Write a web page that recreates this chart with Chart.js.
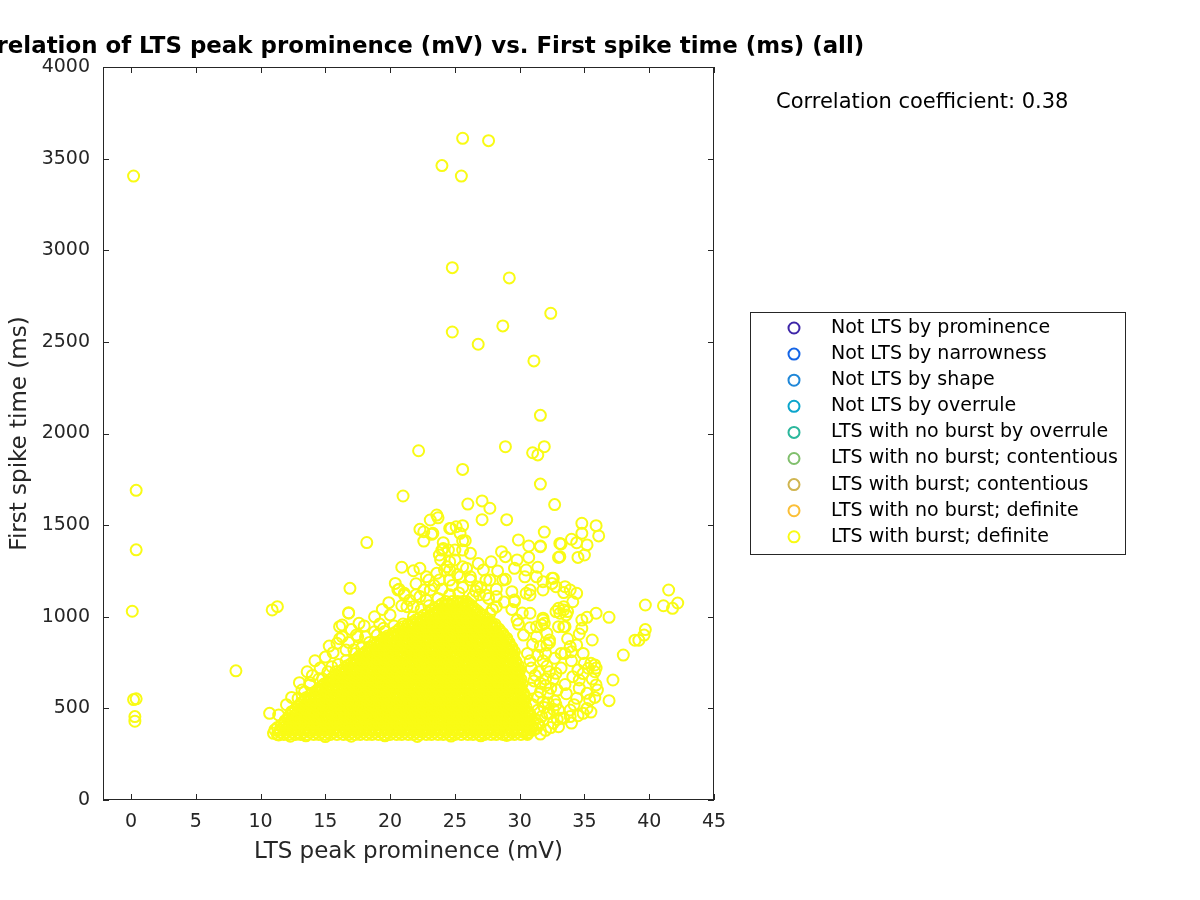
<!DOCTYPE html>
<html><head><meta charset="utf-8">
<script src="https://cdn.jsdelivr.net/npm/chart.js@4.4.0/dist/chart.umd.min.js"></script>
<style>html,body{margin:0;padding:0;background:#fff}canvas{display:block}</style>
</head><body>
<canvas id="c" width="1200" height="900"></canvas>
<script>
const chartTitle = 'Correlation of LTS peak prominence (mV) vs. First spike time (ms) (all)';
const xLabel = 'LTS peak prominence (mV)';
const yLabel = 'First spike time (ms)';
const corrText = 'Correlation coefficient: 0.38';
const seriesLabels = ['Not LTS by prominence','Not LTS by narrowness','Not LTS by shape','Not LTS by overrule','LTS with no burst by overrule','LTS with no burst; contentious','LTS with burst; contentious','LTS with no burst; definite','LTS with burst; definite'];
const seriesColors = ['#3e26a8','#1565e6','#1f87d8','#0ba5cc','#2bb79c','#80bf6c','#d0b550','#fbbf37','#f9fb15'];
const xTicks = [0,5,10,15,20,25,30,35,40,45];
const yTicks = [0,500,1000,1500,2000,2500,3000,3500,4000];

// isolated points (x = prominence mV, y = first spike time ms)
const isolatedPoints = [[0.2,3405],[0.4,1690],[0.4,1365],[0.1,1030],[0.2,548],[0.4,552],[0.3,455],[0.3,430],[8.1,705],[10.9,1037],[11.3,1055],
[24.0,3462],[25.6,3611],[27.6,3598],[25.5,3405],[24.8,2905],[29.2,2849],[32.4,2656],[24.8,2554],[28.7,2587],[26.8,2487],[31.1,2396],[31.6,2099],
[22.2,1906],[28.9,1928],[31.9,1928],[31.0,1895],[31.4,1883],[25.6,1804],[31.6,1724],[21.0,1659],[26.0,1615],[27.1,1632],[27.7,1592],[32.7,1612]];
const farRightPoints = [[39.7,1064],[41.5,1146],[41.1,1060],[41.8,1046],[42.2,1075],[39.7,930],[39.6,900],[39.2,872],[38.9,872],[38.0,791],[37.2,655],[36.9,542],[36.9,997],[35.9,628]];
const upperPoints = [[23.6,1555],[23.1,1528],[27.1,1530],[29.0,1530],[22.3,1477],[22.6,1464],[22.6,1413],[23.3,1455],[24.7,1482],[25.1,1491],[25.6,1497],[25.4,1455],[25.8,1415],[18.2,1405],[24.1,1404],[24.1,1372],[23.8,1337],[24.5,1364],[25.0,1364],[25.6,1364],[26.2,1346],[25.6,1415],[29.9,1419],[31.9,1462],[30.7,1386],[31.6,1386],[33.1,1400],[33.1,1328],[28.6,1355],[28.9,1328],[29.8,1310],[30.7,1324],[29.6,1264],[30.5,1255],[31.4,1270],[30.4,1218],[31.3,1218],[32.6,1210],[28.9,1204],[29.4,1137],[29.6,1091],[30.8,1146],[30.8,1119],[31.8,1191],[31.8,1146],[32.8,1164],
[20.9,1270],[21.8,1251],[22.3,1264],[22.8,1218],[20.4,1182],[20.6,1146],[21.1,1119],[19.9,1077],[22.6,1146],[21.8,1055],[16.9,1155],[16.8,1022],[17.6,964],[15.9,855],[16.6,819],[17.5,891],[23.9,1310],[24.4,1273],[25.0,1310],[25.9,1264],[25.4,1218],[27.2,1255],[27.4,1200],[26.2,1200],[23.8,1200],[24.6,1200],[23.2,1450],[23.7,1540],[24.6,1482],[24.0,1364],[20.7,1150],[21.1,1128],[23.0,1200],[24.6,1255],
[27.7,1200],[28.7,1200],[29.6,1082],[30.5,1128],[33.4,1055],[32.8,1028],[30.8,1019],[29.8,982],[27.7,1019],[28.2,1055],[27.4,1119],[28.2,1110],[21.3,1055],[22.3,1110],[23.1,1146],[23.6,1237],[24.2,1255],[24.6,1300],[25.6,1273],[26.2,1218],[26.7,1164],
[24.0,1150],[24.8,1170],[25.6,1160],[26.6,1140],[25.2,1230],[23.4,1170],[22.0,1180],[26.8,1290],[27.8,1300],[28.3,1250],[18.8,1000],[19.4,1040],[20.0,1010],[20.9,1060],[21.5,1090],[22.0,1120],[22.8,1090],[19.2,960],[18.0,950],[17.0,930]];
const rightPoints = [[34.8,1510],[35.9,1497],[36.1,1441],[34.8,1455],[31.6,1382],[33.2,1397],[34.0,1423],[34.4,1404],[35.2,1392],[33.0,1324],[34.5,1324],[35.0,1337],[32.5,1210],[32.5,1182],[33.5,1164],[33.9,1146],[34.4,1128],[33.4,1132],[34.1,1082],[33.0,1046],[33.4,1037],[33.7,1028],[33.6,1010],[34.8,982],[35.2,997],[35.9,1019],[31.8,982],[31.7,955],[33.0,946],[33.5,946],[34.6,906],[34.8,937],[35.6,873],[33.9,837],[34.4,846],[33.5,800],[34.0,809],[32.3,858],[32.1,846],[32.7,773],[35.0,746],[35.5,746],[35.8,737],[35.3,719],[34.5,709],[35.2,582],[35.4,546],[35.2,500],[34.9,473],[33.9,491],[33.4,446],[33.9,455],[34.4,555],[34.6,610],[34.1,673],[34.6,655],[32.3,700],[32.8,691],[31.6,637],[32.2,582],[31.8,536],[33.0,491],[32.3,473],[33.2,446],[31.4,418],[31.3,391],[32.1,473],
[33.1,1019],[33.2,800],[31.3,891],[31.6,837],[31.8,992],[31.9,964],[33.4,946],[32.3,873],[31.3,946],[32.1,910],
[31.6,360],[32.0,380],[31.2,440],[32.6,420],[31.9,505],[32.8,520],[31.4,560],[32.4,610],[31.2,680],[30.9,720],[31.8,760],[30.6,800],[31.0,850],[30.3,900],[30.8,940],[29.9,960],[30.2,1020],[29.4,1040],[28.8,1080],[28.2,1150],[27.6,1100],[27.9,1040],[26.9,1120],[27.0,1160],[26.4,1110],
[32.9,600],[33.5,630],[32.0,660],[32.7,540],[33.6,580],[34.2,520],[33.0,400],[34.0,420],[34.5,460],[35.5,480],[35.8,560],[36.0,600],[35.6,660],[34.9,690],[33.2,720],[34.0,760],[33.7,880],[34.9,800],[35.9,720],[35.8,700],
[30.9,395],[31.5,410],[32.4,395],[32.9,440],[31.7,455],[30.8,470],[31.4,490],[32.6,495],[31.0,520],[32.2,530],[31.6,590],[30.9,610],[32.0,625],[31.1,650],[32.6,660],[31.5,700],[32.1,730],[30.8,760],[31.4,790],[32.0,800]];
const leftEdgePoints = [[16.3,955],[15.5,727],[15.6,804],[16.8,1019],[17.4,900],[18.1,891],[18.8,918],[19.5,937],[10.7,473],[11.4,464],[12.4,482],[12.9,555],[13.8,628],[13.4,591],[11.0,364],[11.4,355],[16.1,946],[16.3,891],
[13.0,640],[13.6,700],[14.2,760],[14.6,720],[15.0,780],[13.2,600],[12.4,560],[12.0,520],[14.0,680],[15.3,840],[16.1,880],[16.8,860],[17.2,820],[15.8,700],[14.8,660],
[25.3,1130],[24.6,1120],[23.7,1100],[23.0,1060],[22.4,1040],[21.8,1000],[21.0,960],[20.3,950],[19.6,920],[19.0,900],[18.4,860],[17.8,830],[17.3,800],[16.6,760],[16.0,740],[15.2,700],[14.5,660],[13.8,640],
[12.3,348],[13.5,350],[15.0,346],[17.0,348],[19.6,350],[22.1,347],[24.7,349],[27.0,350],[29.0,352],[30.6,365]];
// dense core, first set of rows: first spike time of each row and the prominence values in it
const coreRowY = [358,383,408,433,458,483,508,533,558,583,608,633,658,683,708,733,758,783,808,833,858,883,908,933,958,983,1008,1033,1058,1083];
const coreRowX = [
[11.3,11.8,12.2,12.7,13.1,13.6,14.1,14.5,15.0,15.4,15.9,16.4,16.8,17.3,17.7,18.2,18.6,19.1,19.6,20.0,20.5,20.9,21.4,21.8,22.3,22.8,23.2,23.7,24.1,24.6,25.0,25.5,26.0,26.4,26.9,27.3,27.8,28.2,28.7,29.2,29.6,30.1,30.6],
[11.1,11.5,12.0,12.4,12.9,13.4,13.8,14.3,14.7,15.2,15.6,16.1,16.6,17.0,17.5,17.9,18.4,18.9,19.3,19.8,20.2,20.7,21.1,21.6,22.1,22.5,23.0,23.4,23.9,24.4,24.8,25.3,25.7,26.2,26.6,27.1,27.6,28.0,28.5,28.9,29.4,29.9,30.3,30.8,31.1],
[11.6,12.0,12.5,12.9,13.4,13.9,14.3,14.8,15.2,15.7,16.2,16.6,17.1,17.5,18.0,18.4,18.9,19.4,19.8,20.3,20.7,21.2,21.7,22.1,22.6,23.0,23.5,23.9,24.4,24.9,25.3,25.8,26.2,26.7,27.2,27.6,28.1,28.5,29.0,29.4,29.9,30.4,30.9],
[11.9,12.3,12.7,13.2,13.6,14.1,14.5,15.0,15.5,15.9,16.4,16.8,17.3,17.8,18.2,18.7,19.1,19.6,20.0,20.5,21.0,21.4,21.9,22.3,22.8,23.2,23.7,24.2,24.6,25.1,25.5,26.0,26.4,26.9,27.4,27.8,28.3,28.7,29.2,29.7,30.1,30.6],
[12.2,12.6,13.0,13.5,13.9,14.4,14.8,15.3,15.7,16.2,16.7,17.1,17.6,18.0,18.5,18.9,19.4,19.9,20.3,20.8,21.2,21.7,22.1,22.6,23.1,23.5,24.0,24.4,24.9,25.3,25.8,26.3,26.7,27.2,27.6,28.1,28.5,29.0,29.5,29.9,30.4,30.8],
[12.5,12.9,13.3,13.8,14.2,14.6,15.1,15.5,16.0,16.4,16.9,17.4,17.8,18.3,18.7,19.2,19.6,20.1,20.6,21.0,21.5,21.9,22.4,22.8,23.3,23.8,24.2,24.7,25.1,25.6,26.0,26.5,27.0,27.4,27.9,28.3,28.8,29.2,29.7,30.2,30.6],
[12.9,13.3,13.7,14.1,14.6,15.0,15.5,15.9,16.4,16.8,17.3,17.7,18.2,18.6,19.1,19.5,20.0,20.5,20.9,21.4,21.8,22.3,22.7,23.2,23.6,24.1,24.6,25.0,25.5,25.9,26.4,26.8,27.3,27.7,28.2,28.7,29.1,29.6,30.0,30.5],
[13.2,13.6,14.0,14.4,14.8,15.3,15.7,16.2,16.6,17.1,17.5,18.0,18.4,18.9,19.3,19.8,20.3,20.7,21.2,21.6,22.1,22.5,23.0,23.4,23.9,24.3,24.8,25.3,25.7,26.2,26.6,27.1,27.5,28.0,28.4,28.9,29.4,29.8,30.3],
[13.5,13.9,14.3,14.7,15.1,15.5,16.0,16.4,16.9,17.3,17.8,18.2,18.7,19.1,19.6,20.0,20.5,21.0,21.4,21.9,22.3,22.8,23.2,23.7,24.1,24.6,25.0,25.5,26.0,26.4,26.9,27.3,27.8,28.2,28.7,29.1,29.6,30.1,30.5],
[14.0,14.5,14.9,15.3,15.8,16.2,16.7,17.1,17.6,18.0,18.5,18.9,19.4,19.8,20.3,20.7,21.2,21.7,22.1,22.6,23.0,23.5,23.9,24.4,24.8,25.3,25.8,26.2,26.7,27.1,27.6,28.0,28.5,28.9,29.4,29.9,30.3],
[14.5,14.8,15.2,15.6,16.0,16.5,16.9,17.4,17.8,18.3,18.7,19.2,19.6,20.1,20.5,21.0,21.4,21.9,22.4,22.8,23.3,23.7,24.2,24.6,25.1,25.5,26.0,26.5,26.9,27.4,27.8,28.3,28.7,29.2,29.7,30.1],
[14.9,15.3,15.8,16.2,16.7,17.1,17.6,18.0,18.5,18.9,19.4,19.9,20.3,20.8,21.2,21.7,22.1,22.6,23.0,23.5,24.0,24.4,24.9,25.3,25.8,26.2,26.7,27.2,27.6,28.1,28.5,29.0,29.4,29.9,30.2],
[15.4,15.8,16.1,16.5,16.9,17.4,17.8,18.3,18.7,19.2,19.6,20.1,20.5,21.0,21.4,21.9,22.3,22.8,23.3,23.7,24.2,24.6,25.1,25.5,26.0,26.4,26.9,27.4,27.8,28.3,28.7,29.2,29.6,30.1],
[15.8,16.3,16.7,17.2,17.6,18.1,18.5,19.0,19.4,19.9,20.3,20.8,21.2,21.7,22.1,22.6,23.1,23.5,24.0,24.4,24.9,25.3,25.8,26.2,26.7,27.2,27.6,28.1,28.5,29.0,29.4,29.9],
[16.3,16.6,17.0,17.4,17.9,18.3,18.8,19.2,19.7,20.1,20.6,21.0,21.5,21.9,22.4,22.8,23.3,23.8,24.2,24.7,25.1,25.6,26.0,26.5,26.9,27.4,27.9,28.3,28.8,29.2,29.7,30.0],
[16.7,17.2,17.6,18.1,18.5,19.0,19.4,19.9,20.3,20.8,21.2,21.7,22.2,22.6,23.1,23.5,24.0,24.4,24.9,25.3,25.8,26.3,26.7,27.2,27.6,28.1,28.5,29.0,29.5,29.9],
[17.2,17.5,17.9,18.3,18.8,19.2,19.7,20.1,20.6,21.0,21.5,21.9,22.4,22.9,23.3,23.8,24.2,24.7,25.1,25.6,26.0,26.5,27.0,27.4,27.9,28.3,28.8,29.2,29.7],
[17.6,18.1,18.5,19.0,19.4,19.9,20.3,20.8,21.3,21.7,22.2,22.6,23.1,23.5,24.0,24.4,24.9,25.4,25.8,26.3,26.7,27.2,27.6,28.1,28.5,29.0,29.5],
[18.1,18.4,18.8,19.2,19.7,20.1,20.6,21.0,21.5,21.9,22.4,22.8,23.3,23.8,24.2,24.7,25.1,25.6,26.0,26.5,26.9,27.4,27.9,28.3,28.8,29.2,29.6],
[18.5,19.0,19.4,19.9,20.3,20.8,21.2,21.7,22.1,22.6,23.1,23.5,24.0,24.4,24.9,25.3,25.8,26.2,26.7,27.2,27.6,28.1,28.5,29.0,29.4],
[19.0,19.3,19.7,20.1,20.5,21.0,21.4,21.9,22.3,22.8,23.3,23.7,24.2,24.6,25.1,25.5,26.0,26.4,26.9,27.4,27.8,28.3,28.7,29.2],
[19.5,19.9,20.3,20.8,21.2,21.7,22.1,22.6,23.0,23.5,24.0,24.4,24.9,25.3,25.8,26.2,26.7,27.1,27.6,28.1,28.5,29.0],
[20.2,20.6,21.0,21.4,21.9,22.3,22.8,23.2,23.7,24.2,24.6,25.1,25.5,26.0,26.4,26.9,27.3,27.8,28.3,28.7],
[20.7,21.2,21.6,22.1,22.5,23.0,23.4,23.9,24.4,24.8,25.3,25.7,26.2,26.6,27.1,27.5,28.0,28.4],
[21.4,21.8,22.3,22.7,23.2,23.6,24.1,24.6,25.0,25.5,25.9,26.4,26.8,27.3,27.7,28.1],
[22.0,22.5,22.9,23.4,23.8,24.3,24.8,25.2,25.7,26.1,26.6,27.0,27.5],
[22.6,23.1,23.5,24.0,24.4,24.9,25.4,25.8,26.3,26.7,27.1],
[23.2,23.7,24.1,24.6,25.0,25.5,25.9,26.4,26.7],
[23.8,24.2,24.7,25.1,25.6,26.0,26.3],
[24.3,24.8,25.2,25.6,25.9]];
// dense core, second set of rows (between the first ones)
const coreRowY2 = [370,395,420,445,470,495,520,545,570,595,620,645,670,695,720,745,770,795,820,845,870,895,920,945,970,995,1020,1045,1070];
const coreRowX2 = [
[11.5,12.0,12.4,12.9,13.3,13.8,14.3,14.7,15.2,15.6,16.1,16.6,17.0,17.5,17.9,18.4,18.8,19.3,19.8,20.2,20.7,21.1,21.6,22.0,22.5,23.0,23.4,23.9,24.3,24.8,25.2,25.7,26.2,26.6,27.1,27.5,28.0,28.4,28.9,29.4,29.8,30.3,30.7],
[11.3,11.7,12.2,12.6,13.1,13.6,14.0,14.5,14.9,15.4,15.8,16.3,16.8,17.2,17.7,18.1,18.6,19.1,19.5,20.0,20.4,20.9,21.3,21.8,22.3,22.7,23.2,23.6,24.1,24.6,25.0,25.5,25.9,26.4,26.8,27.3,27.8,28.2,28.7,29.1,29.6,30.1,30.5,31.0],
[11.8,12.2,12.7,13.1,13.6,14.1,14.5,15.0,15.4,15.9,16.3,16.8,17.3,17.7,18.2,18.6,19.1,19.5,20.0,20.5,20.9,21.4,21.8,22.3,22.7,23.2,23.7,24.1,24.6,25.0,25.5,25.9,26.4,26.9,27.3,27.8,28.2,28.7,29.2,29.6,30.1,30.6],
[12.1,12.5,12.9,13.4,13.8,14.3,14.7,15.2,15.7,16.1,16.6,17.0,17.5,18.0,18.4,18.9,19.3,19.8,20.2,20.7,21.2,21.6,22.1,22.5,23.0,23.4,23.9,24.4,24.8,25.3,25.7,26.2,26.6,27.1,27.6,28.0,28.5,28.9,29.4,29.9,30.3,30.7],
[12.4,12.8,13.2,13.7,14.1,14.6,15.0,15.5,15.9,16.4,16.9,17.3,17.8,18.2,18.7,19.1,19.6,20.1,20.5,21.0,21.4,21.9,22.3,22.8,23.3,23.7,24.2,24.6,25.1,25.5,26.0,26.5,26.9,27.4,27.8,28.3,28.7,29.2,29.7,30.1,30.6],
[12.7,13.1,13.5,14.0,14.4,14.8,15.3,15.7,16.2,16.6,17.1,17.6,18.0,18.5,18.9,19.4,19.8,20.3,20.8,21.2,21.7,22.1,22.6,23.0,23.5,24.0,24.4,24.9,25.3,25.8,26.2,26.7,27.2,27.6,28.1,28.5,29.0,29.4,29.9,30.4],
[13.1,13.5,13.9,14.3,14.8,15.2,15.7,16.1,16.6,17.0,17.5,17.9,18.4,18.8,19.3,19.7,20.2,20.7,21.1,21.6,22.0,22.5,22.9,23.4,23.8,24.3,24.8,25.2,25.7,26.1,26.6,27.0,27.5,27.9,28.4,28.9,29.3,29.8,30.2],
[13.4,13.8,14.2,14.6,15.0,15.5,15.9,16.4,16.8,17.3,17.7,18.2,18.6,19.1,19.5,20.0,20.5,20.9,21.4,21.8,22.3,22.7,23.2,23.6,24.1,24.5,25.0,25.5,25.9,26.4,26.8,27.3,27.7,28.2,28.6,29.1,29.6,30.0,30.4],
[13.8,14.2,14.6,15.0,15.4,15.8,16.2,16.7,17.1,17.6,18.0,18.5,18.9,19.4,19.8,20.3,20.8,21.2,21.7,22.1,22.6,23.0,23.5,23.9,24.4,24.8,25.3,25.8,26.2,26.7,27.1,27.6,28.0,28.5,28.9,29.4,29.9,30.3],
[14.3,14.7,15.1,15.6,16.0,16.4,16.9,17.3,17.8,18.2,18.7,19.1,19.6,20.0,20.5,21.0,21.4,21.9,22.3,22.8,23.2,23.7,24.1,24.6,25.0,25.5,26.0,26.4,26.9,27.3,27.8,28.2,28.7,29.1,29.6,30.1],
[14.7,15.1,15.5,15.9,16.3,16.7,17.2,17.6,18.1,18.5,19.0,19.4,19.9,20.3,20.8,21.2,21.7,22.2,22.6,23.1,23.5,24.0,24.4,24.9,25.3,25.8,26.2,26.7,27.2,27.6,28.1,28.5,29.0,29.4,29.9],
[15.2,15.6,16.0,16.4,16.9,17.3,17.8,18.2,18.7,19.1,19.6,20.1,20.5,21.0,21.4,21.9,22.3,22.8,23.2,23.7,24.2,24.6,25.1,25.5,26.0,26.4,26.9,27.4,27.8,28.3,28.7,29.2,29.6,30.0],
[15.6,16.0,16.4,16.8,17.2,17.6,18.1,18.5,19.0,19.4,19.9,20.3,20.8,21.2,21.7,22.1,22.6,23.0,23.5,24.0,24.4,24.9,25.3,25.8,26.2,26.7,27.2,27.6,28.1,28.5,29.0,29.4,29.9],
[16.1,16.5,16.9,17.4,17.8,18.3,18.7,19.2,19.6,20.1,20.5,21.0,21.4,21.9,22.3,22.8,23.3,23.7,24.2,24.6,25.1,25.5,26.0,26.4,26.9,27.4,27.8,28.3,28.7,29.2,29.6,29.9],
[16.5,16.9,17.3,17.7,18.2,18.6,19.1,19.5,20.0,20.4,20.9,21.3,21.8,22.2,22.7,23.1,23.6,24.0,24.5,25.0,25.4,25.9,26.3,26.8,27.2,27.7,28.1,28.6,29.0,29.5,29.8],
[17.0,17.4,17.8,18.3,18.7,19.2,19.6,20.1,20.5,21.0,21.4,21.9,22.4,22.8,23.3,23.7,24.2,24.6,25.1,25.5,26.0,26.5,26.9,27.4,27.8,28.3,28.7,29.2,29.7],
[17.4,17.8,18.2,18.6,19.0,19.5,19.9,20.4,20.8,21.3,21.7,22.2,22.6,23.1,23.6,24.0,24.5,24.9,25.4,25.8,26.3,26.7,27.2,27.7,28.1,28.6,29.0,29.5],
[17.9,18.3,18.7,19.2,19.6,20.1,20.5,21.0,21.5,21.9,22.4,22.8,23.3,23.7,24.2,24.6,25.1,25.6,26.0,26.5,26.9,27.4,27.8,28.3,28.7,29.2,29.5],
[18.3,18.6,19.0,19.5,19.9,20.4,20.8,21.3,21.7,22.2,22.6,23.1,23.5,24.0,24.5,24.9,25.4,25.8,26.3,26.7,27.2,27.6,28.1,28.6,29.0,29.4],
[18.8,19.2,19.6,20.1,20.5,21.0,21.4,21.9,22.4,22.8,23.3,23.7,24.2,24.6,25.1,25.5,26.0,26.4,26.9,27.4,27.8,28.3,28.7,29.2],
[19.3,19.6,20.0,20.4,20.9,21.3,21.8,22.2,22.7,23.1,23.6,24.0,24.5,24.9,25.4,25.8,26.3,26.7,27.2,27.6,28.1,28.6,29.0],
[19.8,20.2,20.6,21.1,21.5,22.0,22.4,22.9,23.3,23.8,24.2,24.7,25.1,25.6,26.0,26.5,26.9,27.4,27.9,28.3,28.8],
[20.5,20.9,21.3,21.8,22.2,22.7,23.1,23.6,24.0,24.5,24.9,25.4,25.8,26.3,26.7,27.2,27.6,28.1,28.5],
[21.0,21.5,21.9,22.4,22.8,23.3,23.7,24.2,24.6,25.1,25.5,26.0,26.4,26.9,27.3,27.8,28.1],
[21.7,22.1,22.6,23.0,23.5,23.9,24.4,24.8,25.3,25.7,26.2,26.6,27.1,27.5,27.8],
[22.3,22.8,23.2,23.7,24.1,24.6,25.0,25.5,25.9,26.4,26.8,27.3],
[22.9,23.4,23.8,24.3,24.7,25.2,25.6,26.1,26.5,26.9],
[23.5,24.0,24.4,24.9,25.3,25.8,26.2,26.5],
[24.0,24.5,24.9,25.4,25.8,26.1]];

const burstDefinite = [];
[isolatedPoints, farRightPoints, upperPoints, rightPoints, leftEdgePoints].forEach(g => g.forEach(p => burstDefinite.push({x: p[0], y: p[1]})));
coreRowY.forEach((yv, i) => coreRowX[i].forEach(xv => burstDefinite.push({x: xv, y: yv})));
coreRowY2.forEach((yv, i) => coreRowX2[i].forEach(xv => burstDefinite.push({x: xv, y: yv})));

const FONT = 'DejaVu Sans';
const AX = '#262626';

const framePlugin = {
  id: 'frame',
  afterDatasetsDraw(chart) {
    const ctx = chart.ctx, a = chart.chartArea;
    const xs = chart.scales.x, ys = chart.scales.y;
    ctx.save();
    ctx.fillStyle = AX;
    const L = Math.round(a.left), R = Math.round(a.right), T = Math.round(a.top), B = Math.round(a.bottom);
    ctx.fillRect(L, T, R - L, 1);
    ctx.fillRect(L, B - 1, R - L, 1);
    ctx.fillRect(L, T, 1, B - T);
    ctx.fillRect(R - 1, T, 1, B - T);
    const tl = 6;
    xTicks.forEach(v => { const px = Math.round(xs.getPixelForValue(v)); ctx.fillRect(px, B - tl, 1, tl); ctx.fillRect(px, T, 1, tl); });
    yTicks.forEach(v => { const py = Math.round(ys.getPixelForValue(v)); ctx.fillRect(L, py, tl, 1); ctx.fillRect(R - tl, py, tl, 1); });
    // title
    ctx.fillStyle = '#000';
    ctx.font = 'bold 22.9px "' + FONT + '"';
    ctx.textAlign = 'center'; ctx.textBaseline = 'middle';
    ctx.fillText(chartTitle, (a.left + a.right) / 2, 47);
    // correlation annotation
    ctx.font = '21px "' + FONT + '"';
    ctx.textAlign = 'left';
    ctx.fillText(corrText, 776, 103);
    // legend
    const bx = 750.5, by = 312.5, bw = 375, bh = 242;
    ctx.fillStyle = '#fff'; ctx.fillRect(bx, by, bw, bh);
    ctx.strokeStyle = AX; ctx.lineWidth = 1; ctx.strokeRect(bx, by, bw, bh);
    ctx.font = '19px "' + FONT + '"';
    chart.data.datasets.forEach((ds, i) => {
      const yy = 328 + i * 26.1;
      ctx.beginPath(); ctx.arc(794, yy, 5.5, 0, Math.PI * 2);
      ctx.strokeStyle = ds.borderColor; ctx.lineWidth = 2; ctx.stroke();
      ctx.fillStyle = '#000'; ctx.textAlign = 'left'; ctx.textBaseline = 'middle';
      ctx.fillText(ds.label, 831, yy);
    });
    ctx.restore();
  }
};

new Chart(document.getElementById('c').getContext('2d'), {
  type: 'scatter',
  data: {
    datasets: seriesLabels.map((lab, i) => ({
      label: lab,
      data: i === 8 ? burstDefinite : [],
      pointStyle: 'circle', pointRadius: 5.5, pointHoverRadius: 5.5,
      borderColor: seriesColors[i], backgroundColor: 'rgba(0,0,0,0)', borderWidth: 2, showLine: false
    }))
  },
  options: {
    responsive: false, animation: false, devicePixelRatio: 1, events: [],
    layout: { padding: { left: 0, right: 486, top: 67, bottom: 0 } },
    plugins: { legend: { display: false }, title: { display: false }, tooltip: { enabled: false } },
    scales: {
      x: {
        type: 'linear', min: -2.16, max: 45,
        afterBuildTicks: s => { s.ticks = xTicks.map(v => ({ value: v })); },
        grid: { display: false, drawTicks: false }, border: { display: false },
        ticks: { font: { family: FONT, size: 19 }, color: AX, padding: 11, maxRotation: 0, autoSkip: false, callback: v => String(v) },
        title: { display: true, text: xLabel, font: { family: FONT, size: 23 }, color: AX, padding: { top: 0, bottom: 34 } },
        afterFit: s => { s.height = 100; }
      },
      y: {
        type: 'linear', min: 0, max: 4000,
        afterBuildTicks: s => { s.ticks = yTicks.map(v => ({ value: v })); },
        grid: { display: false, drawTicks: false }, border: { display: false },
        ticks: { font: { family: FONT, size: 19 }, color: AX, padding: 13, autoSkip: false, callback: v => String(v) },
        title: { display: true, text: yLabel, font: { family: FONT, size: 23 }, color: AX, padding: { top: 6, bottom: 0 } },
        afterFit: s => { s.width = 103; }
      }
    }
  },
  plugins: [framePlugin]
});
</script>
</body></html>
